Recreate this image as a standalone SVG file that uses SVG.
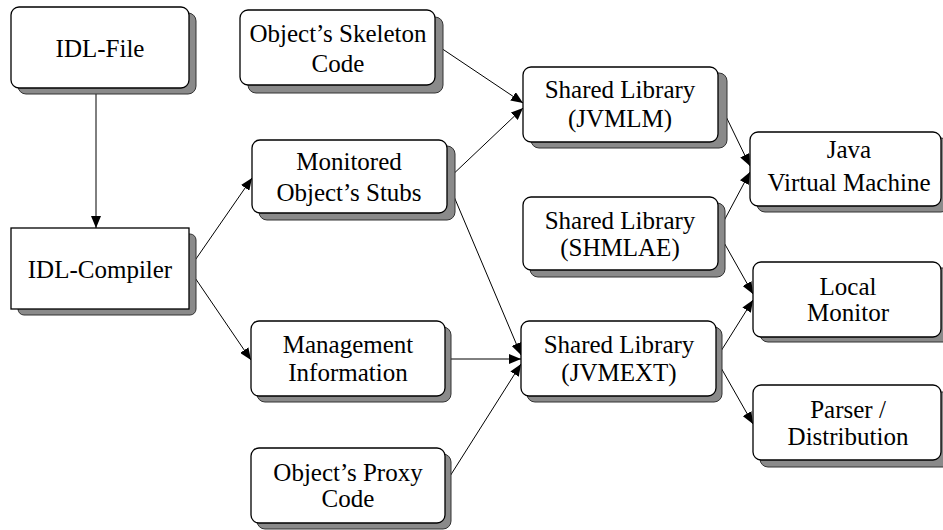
<svg xmlns="http://www.w3.org/2000/svg" width="943" height="530" viewBox="0 0 943 530" font-family="Liberation Serif, Times New Roman, serif">
<style>
svg text, text, g text { font-family: "Liberation Serif", "Times New Roman", Times, serif !important; font-size: 25px; text-anchor: middle; fill: #000; }
.sh { fill: #8a8a8a; stroke: #333; stroke-width: 1; }
.bx { fill: #fff; stroke: #000; stroke-width: 1.3; }
</style>
<defs>
<marker id="ah" markerUnits="userSpaceOnUse" markerWidth="12" markerHeight="10" refX="12" refY="5" orient="auto">
<path d="M0,0 L12,5 L0,10 z" fill="#000"/>
</marker>
</defs>
<rect width="943" height="530" fill="#fff"/>
<g id="connectors" fill="none" stroke="#000" stroke-width="1">
<line x1="96" y1="88" x2="96" y2="228" marker-end="url(#ah)"/>
<line x1="189" y1="269" x2="252" y2="178" marker-end="url(#ah)"/>
<line x1="189" y1="269" x2="251" y2="360" marker-end="url(#ah)"/>
<line x1="435" y1="44" x2="523" y2="103" marker-end="url(#ah)"/>
<line x1="447" y1="180" x2="523" y2="108" marker-end="url(#ah)"/>
<line x1="447" y1="180" x2="521" y2="355" marker-end="url(#ah)"/>
<line x1="445" y1="359" x2="521" y2="359" marker-end="url(#ah)"/>
<line x1="445" y1="484" x2="521" y2="364" marker-end="url(#ah)"/>
<line x1="718" y1="100" x2="750" y2="166" marker-end="url(#ah)"/>
<line x1="718" y1="232" x2="750" y2="172" marker-end="url(#ah)"/>
<line x1="718" y1="232" x2="753" y2="294" marker-end="url(#ah)"/>
<line x1="716" y1="359" x2="753" y2="300" marker-end="url(#ah)"/>
<line x1="716" y1="359" x2="753" y2="424" marker-end="url(#ah)"/>
</g>
<g id="idl-file">
<rect class="sh" x="18" y="13" width="178" height="81" rx="8"/>
<rect class="bx" x="11" y="7" width="178" height="81" rx="8"/>
<text x="100" y="57" font-family="Liberation Serif">IDL-File</text>
</g>
<g id="idl-compiler">
<rect class="sh" x="18" y="234" width="178" height="81" rx="6"/>
<rect class="bx" x="11" y="228" width="178" height="81"/>
<text x="100" y="278" font-family="Liberation Serif">IDL-Compiler</text>
</g>
<g id="skeleton">
<rect class="sh" x="248" y="17" width="195" height="76" rx="8"/>
<rect class="bx" x="240" y="10" width="195" height="75" rx="8"/>
<text x="338" y="42" font-family="Liberation Serif">Object’s Skeleton</text>
<text x="338" y="72" font-family="Liberation Serif">Code</text>
</g>
<g id="stubs">
<rect class="sh" x="259" y="146" width="196" height="74" rx="8"/>
<rect class="bx" x="252" y="140" width="195" height="73" rx="8"/>
<text x="349" y="170" font-family="Liberation Serif">Monitored</text>
<text x="349" y="201" font-family="Liberation Serif">Object’s Stubs</text>
</g>
<g id="management">
<rect class="sh" x="257" y="327" width="194" height="75" rx="8"/>
<rect class="bx" x="251" y="321" width="194" height="75" rx="8"/>
<text x="348" y="353" font-family="Liberation Serif">Management</text>
<text x="348" y="381" font-family="Liberation Serif">Information</text>
</g>
<g id="proxy">
<rect class="sh" x="257" y="454" width="194" height="75" rx="8"/>
<rect class="bx" x="251" y="448" width="194" height="75" rx="8"/>
<text x="348" y="481" font-family="Liberation Serif">Object’s Proxy</text>
<text x="348" y="507" font-family="Liberation Serif">Code</text>
</g>
<g id="jvmlm">
<rect class="sh" x="531" y="73" width="196" height="75" rx="8"/>
<rect class="bx" x="523" y="67" width="195" height="75" rx="8"/>
<text x="620" y="98" font-family="Liberation Serif">Shared Library</text>
<text x="620" y="127" font-family="Liberation Serif">(JVMLM)</text>
</g>
<g id="shmlae">
<rect class="sh" x="530" y="203" width="195" height="74" rx="8"/>
<rect class="bx" x="523" y="197" width="195" height="73" rx="8"/>
<text x="620" y="229" font-family="Liberation Serif">Shared Library</text>
<text x="620" y="256" font-family="Liberation Serif">(SHMLAE)</text>
</g>
<g id="jvmext">
<rect class="sh" x="527" y="327" width="195" height="75" rx="8"/>
<rect class="bx" x="521" y="321" width="195" height="75" rx="8"/>
<text x="619" y="353" font-family="Liberation Serif">Shared Library</text>
<text x="619" y="381" font-family="Liberation Serif">(JVMEXT)</text>
</g>
<g id="jvm">
<rect class="sh" x="757" y="138" width="192" height="74" rx="8"/>
<rect class="bx" x="750" y="132" width="191" height="74" rx="8"/>
<text x="849" y="158" font-family="Liberation Serif">Java</text>
<text x="849" y="191" font-family="Liberation Serif">Virtual Machine</text>
</g>
<g id="local-monitor">
<rect class="sh" x="760" y="268" width="192" height="74" rx="8"/>
<rect class="bx" x="753" y="262" width="188" height="75" rx="8"/>
<text x="848" y="295" font-family="Liberation Serif">Local</text>
<text x="848" y="321" font-family="Liberation Serif">Monitor</text>
</g>
<g id="parser">
<rect class="sh" x="760" y="392" width="192" height="75" rx="8"/>
<rect class="bx" x="753" y="385" width="188" height="75" rx="8"/>
<text x="848" y="418" font-family="Liberation Serif">Parser /</text>
<text x="848" y="445" font-family="Liberation Serif">Distribution</text>
</g>
</svg>
